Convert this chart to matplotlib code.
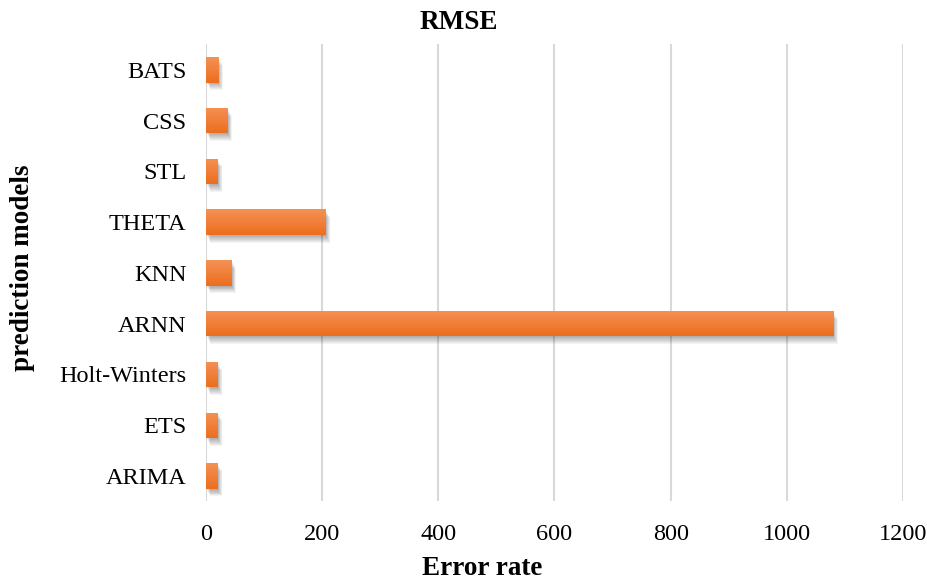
import matplotlib.pyplot as plt
import matplotlib.patheffects as pe
import numpy as np

plt.rcParams['font.family'] = ['Liberation Serif', 'DejaVu Serif']

models = ['ARIMA', 'ETS', 'Holt-Winters', 'ARNN', 'KNN', 'THETA', 'STL', 'CSS', 'BATS']
rmse = [20, 20, 20, 1080, 44, 206, 20, 37, 21]
xticks = [0, 200, 400, 600, 800, 1000, 1200]

fig = plt.figure(figsize=(9.28, 5.85), dpi=100)
ax = fig.add_axes([0.222, 0.143, 0.751, 0.781])

ypos = np.arange(len(models))
# soft drop shadow built from stacked offset copies
shadow = [pe.SimplePatchShadow(offset=(d * 0.8, -d * 1.4), shadow_rgbFace='k', alpha=0.045)
          for d in np.linspace(0.5, 4.0, 8)]
bars = ax.barh(ypos, rmse, height=0.5, color='#F07B30', zorder=3,
               path_effects=shadow + [pe.Normal()])

# vertical orange gradient inside each bar, lighter on top
grad = np.linspace(0, 1, 64).reshape(-1, 1)
top = np.array([245, 145, 85]) / 255
bot = np.array([236, 110, 30]) / 255
img = top + (bot - top) * grad[..., None]
for b in bars:
    x0, y0 = b.get_x(), b.get_y()
    w, h = b.get_width(), b.get_height()
    im = ax.imshow(img, extent=(x0, x0 + w, y0, y0 + h), aspect='auto',
                   zorder=4, interpolation='bilinear')
    im.set_clip_path(b)

ax.set_xlim(0, 1200)
ax.set_ylim(-0.5, len(models) - 0.5)
ax.set_xticks(xticks)
ax.set_xticklabels([str(t) for t in xticks])
ax.set_yticks(ypos)
ax.set_yticklabels(models)
ax.tick_params(axis='both', length=0, labelsize=17.5)
ax.tick_params(axis='y', pad=14)
ax.tick_params(axis='x', pad=16)
ax.grid(axis='x', color='#D9D9D9', linewidth=1.5, zorder=0)
for s in ax.spines.values():
    s.set_visible(False)

fig.text(0.494, 0.962, 'RMSE', ha='center', va='center', fontsize=19.5, fontweight='bold')
fig.text(0.52, 0.028, 'Error rate', ha='center', va='center', fontsize=19.5, fontweight='bold')
fig.text(0.024, 0.543, 'prediction models', ha='center', va='center', rotation=90,
         fontsize=19.5, fontweight='bold')

plt.savefig('out.png', dpi=100)
